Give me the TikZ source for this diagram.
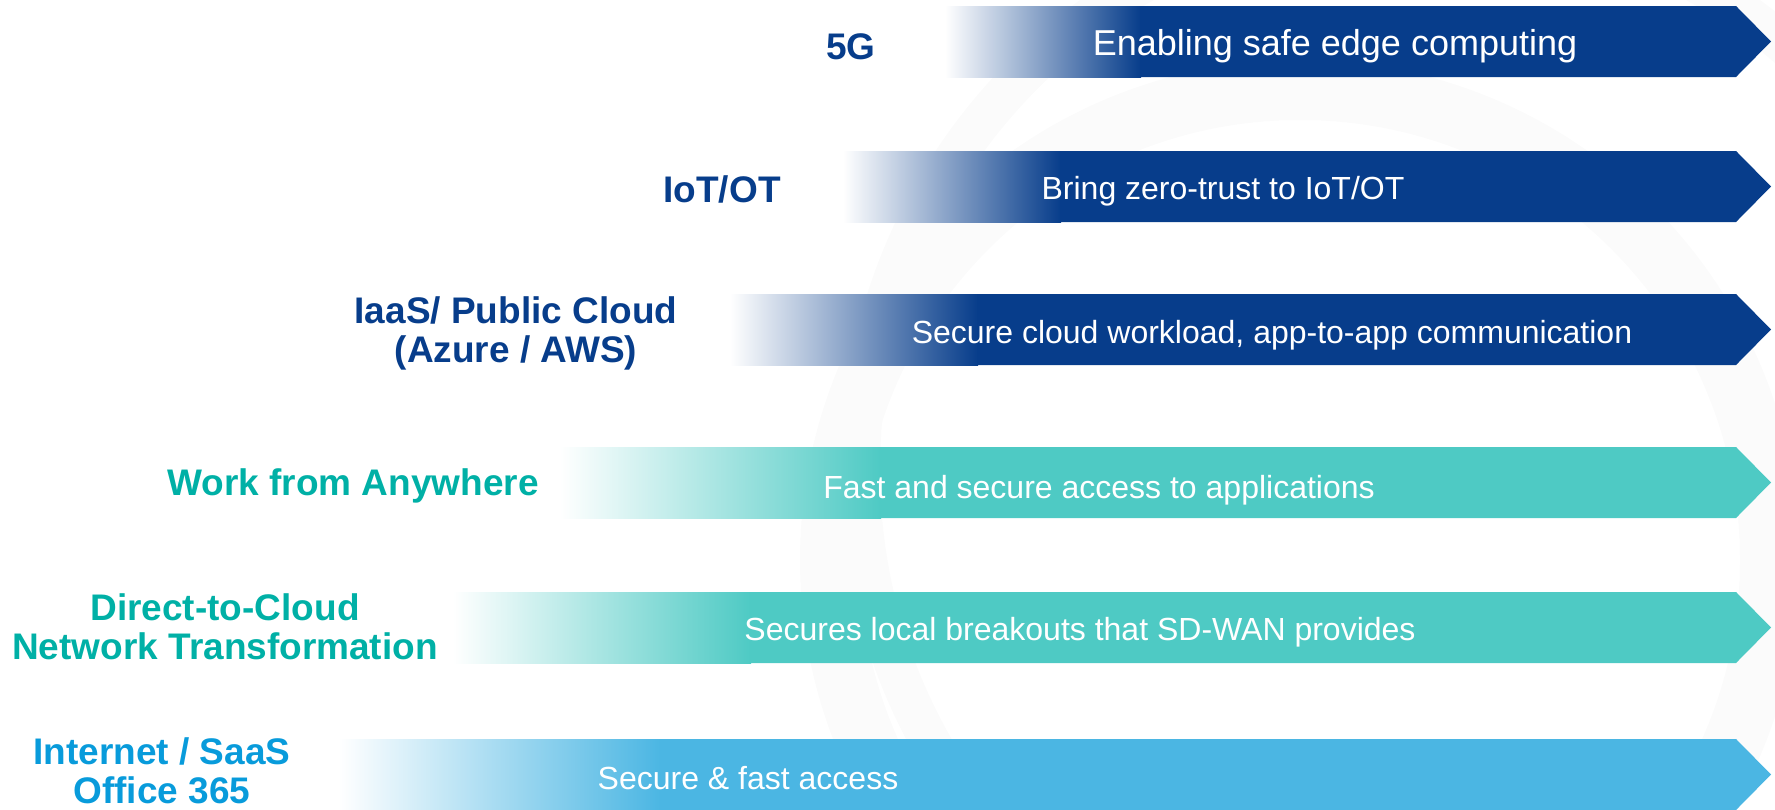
\documentclass[tikz,border=0pt]{standalone}
\usepackage{fontspec}
\setmainfont{Liberation Sans}
\usetikzlibrary{positioning}
\definecolor{navy}{RGB}{7,61,139}
\definecolor{aqua}{RGB}{78,202,196}
\definecolor{sky}{RGB}{75,182,227}
\definecolor{aquatxt}{RGB}{0,176,166}
\definecolor{skytxt}{RGB}{8,155,219}

\begin{document}
\begin{tikzpicture}[x=0.5pt,y=-0.5pt,
  band/.style={font=\fontsize{16}{19}\selectfont, text=white},
  lbl/.style={font=\fontsize{18.5}{19.5}\selectfont\bfseries, align=center}
]
\useasboundingbox (0,0) rectangle (1775,809);

% faint swirl behind
\draw[black!1.5, line width=30pt] (1300,560) circle[radius=470];
\draw[black!1.5, line width=20pt] (1420,470) circle[radius=560];

% arrows: top, fade start, fade end, colour
\foreach \t/\xs/\xf/\c in {6/945/1140/navy, 151/843/1060/navy, 294/730/977/navy,
                           447/560/880/aqua, 592/453/750/aqua, 739/339/660/sky} {
  \shade[left color=white, right color=\c] (\xs,\t) rectangle (\xf+1,\t+71);
  \fill[\c] (\xf,\t) -- (1736,\t) -- (1771,\t+35.5) -- (1736,\t+71) -- (\xf,\t+71) -- cycle;
}

% texts in the arrows
\node[band, font=\fontsize{18}{21}\selectfont] (t5g) at (1335,46) {Enabling safe edge computing};
\node[band] (tiot) at (1223,191) {Bring zero-trust to IoT/OT};
\node[band] (tiaas) at (1272,335) {Secure cloud workload, app-to-app communication};
\node[band] (twfa) at (1099,490) {Fast and secure access to applications};
\node[band] (tdtc) at (1080,632) {Secures local breakouts that SD-WAN provides};
\node[band] (tsaas) at (748,778) {Secure \& fast access};

% labels on the left
\node[lbl, text=navy] (l5g) at (851,47) {5G};
\node[lbl, text=navy] (liot) at (722,189) {IoT/OT};
\node[lbl, text=navy] (liaas) at (516,333) {IaaS/ Public Cloud\\(Azure / AWS)};
\node[lbl, text=aquatxt] (lwfa) at (353,486) {Work from Anywhere};
\node[lbl, text=aquatxt] (ldtc) at (225,627) {Direct-to-Cloud\\Network Transformation};
\node[lbl, text=skytxt] (lsaas) at (162,771) {Internet / SaaS\\Office 365};
\end{tikzpicture}
\end{document}
